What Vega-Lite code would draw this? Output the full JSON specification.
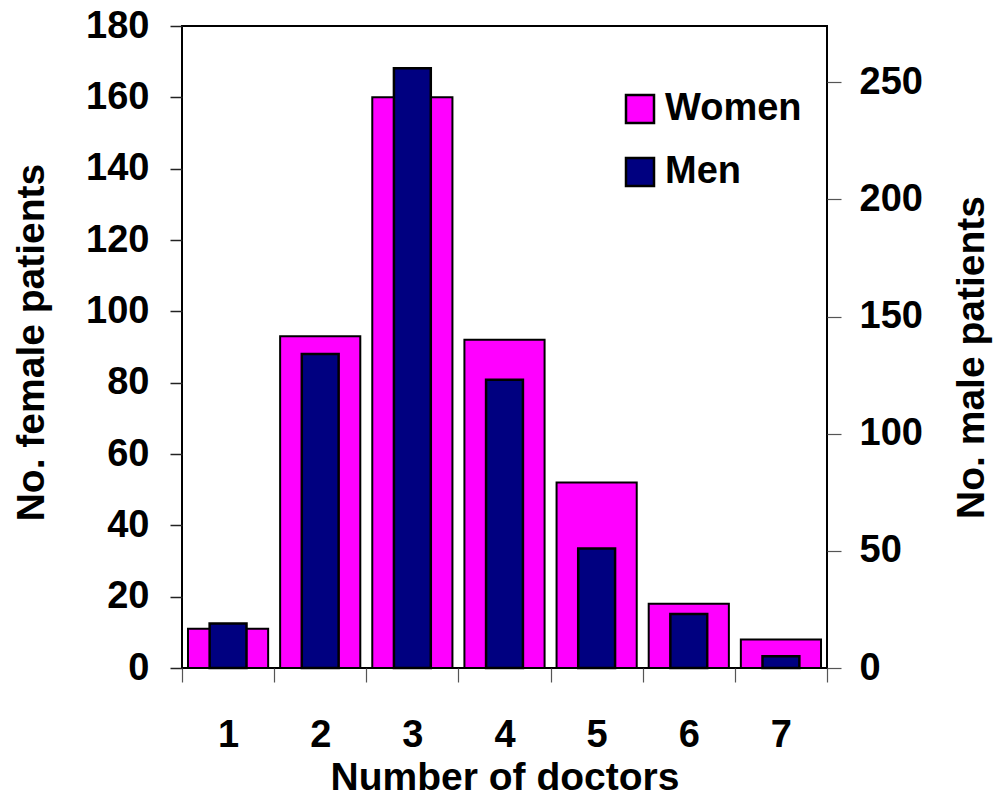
{
  "$schema": "https://vega.github.io/schema/vega-lite/v6.json",
  "width": 645,
  "height": 642,
  "autosize": {"type": "none"},
  "padding": {"left": 182, "top": 26, "right": 167, "bottom": 131},
  "background": "white",
  "config": {
    "view": {"stroke": "black", "strokeWidth": 2},
    "font": "Liberation Sans",
    "axis": {
      "labelFont": "Liberation Sans", "labelFontWeight": "bold", "labelFontSize": 38, "labelColor": "black",
      "titleFont": "Liberation Sans", "titleFontWeight": "bold", "titleFontSize": 39, "titleColor": "black",
      "grid": false, "domain": false
    }
  },
  "data": {
    "values": [
      {"doctors": "1", "sex": "Women", "patients": 11},
      {"doctors": "2", "sex": "Women", "patients": 93},
      {"doctors": "3", "sex": "Women", "patients": 160},
      {"doctors": "4", "sex": "Women", "patients": 92},
      {"doctors": "5", "sex": "Women", "patients": 52},
      {"doctors": "6", "sex": "Women", "patients": 18},
      {"doctors": "7", "sex": "Women", "patients": 8},
      {"doctors": "1", "sex": "Men", "patients": 19},
      {"doctors": "2", "sex": "Men", "patients": 134},
      {"doctors": "3", "sex": "Men", "patients": 256},
      {"doctors": "4", "sex": "Men", "patients": 123},
      {"doctors": "5", "sex": "Men", "patients": 51},
      {"doctors": "6", "sex": "Men", "patients": 23},
      {"doctors": "7", "sex": "Men", "patients": 5}
    ]
  },
  "encoding": {
    "x": {
      "field": "doctors", "type": "ordinal",
      "scale": {"paddingInner": 0, "paddingOuter": 0},
      "axis": {
        "title": "Number of doctors", "labelAngle": 0, "tickBand": "extent",
        "tickSize": 14, "tickColor": "#555", "tickWidth": 1.2,
        "labelBaseline": "alphabetic", "labelPadding": 64,
        "titleBaseline": "alphabetic", "titleY": 121
      }
    }
  },
  "layer": [
    {
      "transform": [{"filter": "datum.sex === 'Women'"}],
      "mark": {"type": "bar", "stroke": "black", "strokeWidth": 2, "width": {"band": 0.87}},
      "encoding": {
        "y": {
          "field": "patients", "type": "quantitative",
          "scale": {"domain": [0, 180], "nice": false},
          "axis": {
            "title": "No. female patients", "orient": "left",
            "values": [0, 20, 40, 60, 80, 100, 120, 140, 160, 180],
            "tickSize": 12, "tickColor": "#222", "tickWidth": 1.5, "labelPadding": 21,
            "titleAngle": 270, "titleBaseline": "alphabetic", "titleX": -139, "titleY": 316, "titleAlign": "center"
          }
        },
        "color": {
          "field": "sex", "type": "nominal",
          "scale": {"domain": ["Women", "Men"], "range": ["#FF00FF", "#000080"]},
          "legend": {
            "orient": "none", "legendX": 439, "legendY": 64, "title": null,
            "symbolType": "square", "symbolSize": 784, "symbolStrokeColor": "black", "symbolStrokeWidth": 2.5,
            "symbolOpacity": 1,
            "labelFont": "Liberation Sans", "labelFontWeight": "bold", "labelFontSize": 38, "labelColor": "black",
            "labelOffset": 6, "rowPadding": 25, "padding": 0, "labelLimit": 0
          }
        }
      }
    },
    {
      "transform": [{"filter": "datum.sex === 'Men'"}],
      "mark": {"type": "bar", "stroke": "black", "strokeWidth": 2.5, "width": {"band": 0.4}},
      "encoding": {
        "y": {
          "field": "patients", "type": "quantitative",
          "scale": {"domain": [0, 274], "nice": false},
          "axis": {
            "title": "No. male patients", "orient": "right",
            "values": [0, 50, 100, 150, 200, 250],
            "tickSize": 14, "tickColor": "#555", "tickWidth": 1.2, "labelPadding": 18,
            "titleAngle": 270, "titleBaseline": "alphabetic", "titleX": 156, "titleY": 331, "titleAlign": "center"
          }
        },
        "color": {"field": "sex", "type": "nominal"}
      }
    }
  ],
  "resolve": {"scale": {"y": "independent"}}
}
